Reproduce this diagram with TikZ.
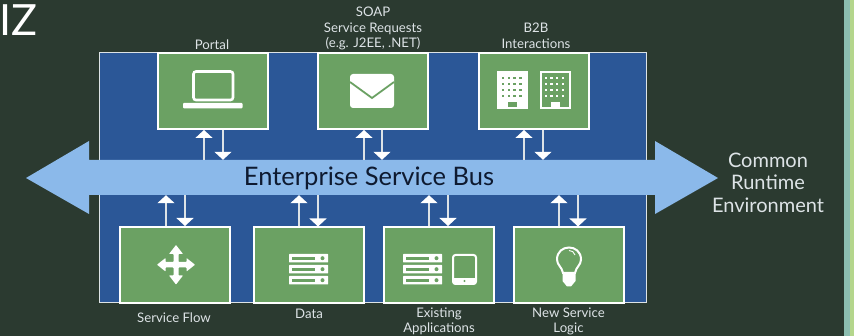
\documentclass[tikz,border=0pt]{standalone}
\usepackage{fontspec}
\setmainfont{Lato}
\usetikzlibrary{arrows.meta}
\definecolor{bg}{HTML}{2B3A30}
\definecolor{panel}{HTML}{2B5797}
\definecolor{busc}{HTML}{8BB9EA}
\definecolor{boxg}{HTML}{6BA163}
\definecolor{lab}{HTML}{DDE3E6}
\definecolor{stripea}{HTML}{8CBDB0}
\definecolor{stripeb}{HTML}{B4D68C}
\definecolor{busink}{HTML}{0E1A30}
\tikzset{
 x=1pt,y=-1pt,
 boxn/.style={draw=white,line width=2pt,fill=boxg,minimum width=110pt,minimum height=76pt,inner sep=0pt},
 conn/.style={draw=lab,line width=1.2pt,-{Triangle[width=17pt,length=8pt,fill=white,color=white]}},
 lbl/.style={text=lab,font=\fontsize{13.2}{15.5}\selectfont,align=center,inner sep=0pt},
 captxt/.style={text=lab,font=\fontsize{20}{22.5}\selectfont,align=center,inner sep=0pt},
}
\newcommand{\serverrow}[2]{%
 \fill[white,rounded corners=0.5pt] (#1,#2) rectangle ++(39,8.5);
 \fill[boxg] (#1+3,#2+3) rectangle ++(23,2.6);
 \fill[boxg] (#1+33.5,#2+4.2) circle (2);
}
\newcommand{\serverstack}[2]{\serverrow{#1}{#2}\serverrow{#1}{#2+11}\serverrow{#1}{#2+22}}
\begin{document}
\begin{tikzpicture}
\useasboundingbox (0,0) rectangle (854,336);
\fill[bg] (0,0) rectangle (854,336);
\fill[stripea] (844,0) rectangle (850,336);
\fill[stripeb] (850,0) rectangle (854,336);
% panel
\node[draw=lab,line width=0.8pt,fill=panel,minimum width=547pt,minimum height=250pt,inner sep=0pt] (panel) at (372.5,177) {};
% bus arrow
\fill[busc] (26,178) -- (89,141) -- (89,160) -- (655,160) -- (655,141) -- (718,178) -- (655,214) -- (655,195) -- (89,195) -- (89,214) -- cycle;
\node[minimum width=566pt,minimum height=35pt,inner sep=0pt] (bus) at (372,177.5) {};
\node[text=busink,font=\fontsize{25.5}{28}\selectfont,inner sep=0pt] (bustext) at (369,178.5) {Enterprise Service Bus};
% boxes
\node[boxn] (portal) at (213,91) {};
\node[boxn] (soap) at (373,91) {};
\node[boxn] (btob) at (533.5,91) {};
\node[boxn] (flow) at (175,265) {};
\node[boxn] (data) at (308.5,265.5) {};
\node[boxn] (exist) at (439,265) {};
\node[boxn] (logic) at (568.5,265.5) {};
% connectors
\foreach \b/\u/\d in {portal/204/223,soap/364/382,btob/524/543}{
 \coordinate (xu) at (\u,0); \coordinate (xd) at (\d,0);
 \draw[conn] (xu |- bus.north) -- (\b.south -| xu);
 \draw[conn] (xd |- \b.south) -- (xd |- bus.north);
}
\foreach \b/\u/\d in {flow/166/185,data/299/318,exist/429/448,logic/559/578}{
 \coordinate (xu) at (\u,0); \coordinate (xd) at (\d,0);
 \draw[conn] (\b.north -| xu) -- (xu |- bus.south);
 \draw[conn] (xd |- bus.south) -- (\b.north -| xd);
}
% laptop
\draw[white,line width=2.6pt,rounded corners=2.5pt] (193.5,71.5) rectangle (233,100);
\fill[white,rounded corners=1pt] (183,103) rectangle (242.5,108.5);
% envelope
\fill[white,rounded corners=3pt] (350,74) rectangle (394,108);
\draw[boxg,line width=1.8pt] (350,82) -- (372,98) -- (394,82);
% buildings
\fill[white] (497,71) rectangle (527.5,109);
\foreach \i in {0,1,2,3}\foreach \j in {0,1,2,3}{
 \fill[boxg] (502+\i*5.7,77+\j*6) rectangle ++(2.4,2.4);
 \fill[white] (544.5+\i*5.7,77+\j*6) rectangle ++(2.4,2.4);
}
\fill[boxg] (508,102) rectangle (516.5,107);
\draw[white,line width=1.6pt] (540.8,71.8) rectangle (569.8,108.2);
\fill[white] (551,102) rectangle (559.5,109);
% move icon
\fill[white,rounded corners=0.6pt]
 (173.5,254) -- (169,254) -- (176,245) -- (183,254) -- (178.5,254) -- (178.5,262)
 -- (186.5,262) -- (186.5,258) -- (195,264.7) -- (186.5,271.5) -- (186.5,267.5) -- (178.5,267.5)
 -- (178.5,275.5) -- (183,275.5) -- (176,284.5) -- (169,275.5) -- (173.5,275.5) -- (173.5,267.5)
 -- (165.5,267.5) -- (165.5,271.5) -- (157,264.7) -- (165.5,258) -- (165.5,262) -- (173.5,262) -- cycle;
% servers
\serverstack{289}{254}
\serverstack{403}{254}
% tablet
\draw[white,line width=2pt,rounded corners=2.5pt] (453,255) rectangle (476,284);
\fill[white] (453,278) rectangle (476,284);
\fill[boxg] (464.5,281) circle (1.2);
% bulb
\draw[white,line width=2pt] (563,273) .. controls (562,267) and (557,265) .. (557,259.5) .. controls (557,243.5) and (581,243.5) .. (581,259.5) .. controls (581,265) and (576,267) .. (575,273) -- cycle;
\fill[white] (562.5,273) -- (575.5,273) -- (575.5,281) -- (571,286.5) -- (567,286.5) -- (562.5,281) -- cycle;
\draw[white,line width=0.9pt] (569,250.5) .. controls (572,250.5) and (574,252) .. (575,255);
% labels
\node[lbl] (tportal) at (212,44.5) {Portal};
\node[lbl] (tsoap) at (373,28.5) {SOAP\\Service Requests\\(e.g. J2EE, .NET)};
\node[lbl] (tbtob) at (536,36) {B2B\\Interactions};
\node[lbl] (tflow) at (174,318) {Service Flow};
\node[lbl] (tdata) at (309,314) {Data};
\node[lbl] (texist) at (439,321.5) {Existing\\Applications};
\node[lbl] (tlogic) at (568.5,321.5) {New Service\\Logic};
\node[captxt] (tcommon) at (768,182.5) {Common\\Runtime\\Environment};
\node[text=white,font=\fontsize{43}{45}\selectfont,anchor=base west,inner sep=0pt] (title) at (-1,36) {IZ};
\end{tikzpicture}
\end{document}
